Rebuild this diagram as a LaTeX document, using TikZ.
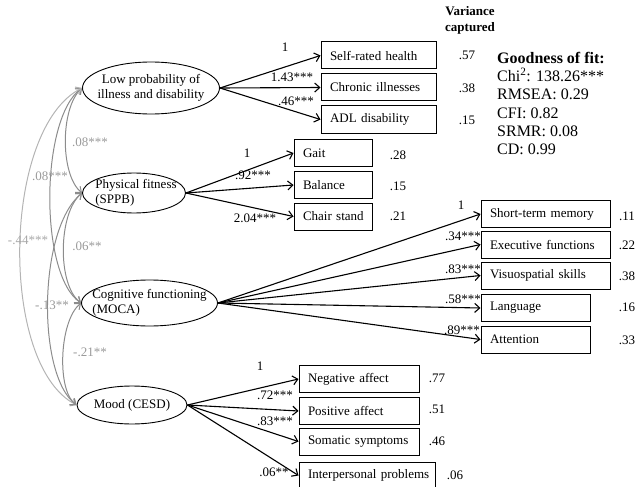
\documentclass[tikz,border=0pt]{standalone}
\usepackage{fontspec}
\setmainfont{Liberation Serif}
\usetikzlibrary{arrows.meta,shapes.geometric}
\definecolor{covgray}{HTML}{8C8C8C}
\definecolor{covlight}{HTML}{B4B4B4}
\definecolor{labgray}{HTML}{9A9A9A}
\definecolor{lablight}{HTML}{A8A8A8}
\begin{document}
\begin{tikzpicture}[x=1pt,y=-1pt,
  font=\fontsize{13}{15}\selectfont,
  lat/.style={draw, ellipse, line width=0.9pt, inner sep=0pt},
  obs/.style={draw, line width=1pt, inner xsep=9pt, inner ysep=0pt, minimum height=27pt, align=left},
  pth/.style={-{Straight Barb[length=5pt,width=9pt]}, line width=1.1pt},
  cov/.style={{Straight Barb[length=5pt,width=8pt]}-{Straight Barb[length=5pt,width=8pt]}, line width=1pt, draw=covgray},
  covl/.style={cov, draw=covlight},
  glab/.style={text=labgray, inner sep=0pt},
  wlab/.style={inner sep=0pt}]
\useasboundingbox (0,0) rectangle (635,487);

% latent variables
\node[lat, minimum width=137, minimum height=52] (low) at (151,88) {};
\node[align=center, inner sep=0pt] (lowt) at (low) {Low probability of\\illness and disability};
\node[lat, minimum width=103, minimum height=40] (phys) at (134,193) {};
\node[align=left, inner sep=0pt] (physt) at ([xshift=2pt]phys.center) {Physical fitness\\(SPPB)};
\node[lat, minimum width=136, minimum height=46] (cog) at (149.5,303) {};
\node[align=left, inner sep=0pt] (cogt) at (cog) {Cognitive functioning\\(MOCA)};
\node[lat, minimum width=110, minimum height=38] (mood) at (132,405) {};
\node[inner sep=0pt] (moodt) at (mood) {Mood (CESD)};

% indicators
\node[obs, text width=97pt] (srh) at (378.5,55.5) {\mbox{Self-rated health}};
\node[obs, text width=97pt] (chr) at (378.5,87.5) {\mbox{Chronic illnesses}};
\node[obs, text width=97pt] (adl) at (378.5,119.5) {\mbox{ADL disability}};
\node[obs, text width=60pt] (gait) at (333,153) {\mbox{Gait}};
\node[obs, text width=60pt] (bal) at (333,185) {\mbox{Balance}};
\node[obs, text width=60pt] (chair) at (333,216.5) {\mbox{Chair stand}};
\node[obs, text width=111pt] (stm) at (545.5,214) {\mbox{Short-term memory}};
\node[obs, text width=111pt] (exe) at (545.5,244.5) {\mbox{Executive functions}};
\node[obs, text width=111pt] (vis) at (545.5,275.5) {\mbox{Visuospatial skills}};
\node[obs, text width=91pt] (lang) at (535.5,308) {\mbox{Language}};
\node[obs, text width=91pt] (att) at (535.5,339.5) {\mbox{Attention}};
\node[obs, text width=102pt] (neg) at (359,379) {\mbox{Negative affect}};
\node[obs, text width=102pt] (pos) at (359,411) {\mbox{Positive affect}};
\node[obs, text width=102pt] (som) at (359,441.5) {\mbox{Somatic symptoms}};
\node[obs, text width=118pt] (inter) at (367,475.5) {\mbox{Interpersonal problems}};

% loadings
\draw[pth] (low.east) -- (srh.west);
\draw[pth] (low.east) -- (chr.west);
\draw[pth] (low.east) -- (adl.west);
\draw[pth] (phys.east) -- (gait.west);
\draw[pth] (phys.east) -- (bal.west);
\draw[pth] (phys.east) -- (chair.west);
\draw[pth] (cog.east) -- (stm.west);
\draw[pth] (cog.east) -- (exe.west);
\draw[pth] (cog.east) -- (vis.west);
\draw[pth] (cog.east) -- (lang.west);
\draw[pth] (cog.east) -- (att.west);
\draw[pth] (mood.east) -- (neg.west);
\draw[pth] (mood.east) -- (pos.west);
\draw[pth] (mood.east) -- (som.west);
\draw[pth] (mood.east) -- (inter.west);

% loading labels
\node[wlab] (w1) at (285,47) {1};
\node[wlab] (w2) at (292,77) {1.43***};
\node[wlab] (w3) at (296,101) {.46***};
\node[wlab] (w4) at (247,153) {1};
\node[wlab] (w5) at (253,175) {.92***};
\node[wlab] (w6) at (255,218) {2.04***};
\node[wlab] (w7) at (461,205) {1};
\node[wlab] (w8) at (463,236) {.34***};
\node[wlab] (w9) at (463,269) {.83***};
\node[wlab] (w10) at (463,299) {.58***};
\node[wlab] (w11) at (462,330) {.89***};
\node[wlab] (w12) at (260,366) {1};
\node[wlab] (w13) at (275,395) {.72***};
\node[wlab] (w14) at (275,421) {.83***};
\node[wlab] (w15) at (274,472) {.06**};

% covariances
\draw[cov] (low.west) .. controls +(-22,20) and +(-22,-18) .. (phys.west);
\draw[cov] (low.west) .. controls +(-42,30) and +(-42,-28) .. (cog.west);
\draw[covl] (low.west) .. controls +(-80,40) and +(-78,-40) .. (mood.west);
\draw[cov] (phys.west) .. controls +(-24,20) and +(-24,-18) .. (cog.west);
\draw[cov] (phys.west) .. controls +(-44,36) and +(-40,-30) .. (mood.west);
\draw[cov] (cog.west) .. controls +(-22,18) and +(-20,-14) .. (mood.west);

\node[glab] (c1) at (90,142) {.08***};
\node[glab] (c2) at (50,176) {.08***};
\node[glab, text=lablight] (c3) at (28,240) {-.44***};
\node[glab] (c4) at (87,246) {.06**};
\node[glab] (c5) at (52,305) {-.13**};
\node[glab] (c6) at (90,352) {-.21**};

% variance captured
\node[font=\fontsize{13}{16}\selectfont\bfseries, align=center, inner sep=0pt] (vh) at (470,20) {Variance\\captured};
\node[wlab] (v1) at (467,55) {.57};
\node[wlab] (v2) at (467,88) {.38};
\node[wlab] (v3) at (467,120) {.15};
\node[wlab] (v4) at (398,155) {.28};
\node[wlab] (v5) at (398,186) {.15};
\node[wlab] (v6) at (398,216) {.21};
\node[wlab] (v7) at (627,216) {.11};
\node[wlab] (v8) at (627,245) {.22};
\node[wlab] (v9) at (627,276) {.38};
\node[wlab] (v10) at (627,307) {.16};
\node[wlab] (v11) at (627,340) {.33};
\node[wlab] (v12) at (437,378) {.77};
\node[wlab] (v13) at (437,409) {.51};
\node[wlab] (v14) at (437,441) {.46};
\node[wlab] (v15) at (455,475) {.06};

% goodness of fit
\node[anchor=north west, align=left, inner sep=0pt, font=\fontsize{16}{18.2}\selectfont] (gof) at (497,52)
 {{\bfseries Goodness of fit:}\\
  Chi\textsuperscript{2}: 138.26***\\
  RMSEA: 0.29\\
  CFI: 0.82\\
  SRMR: 0.08\\
  CD: 0.99};
\end{tikzpicture}
\end{document}
